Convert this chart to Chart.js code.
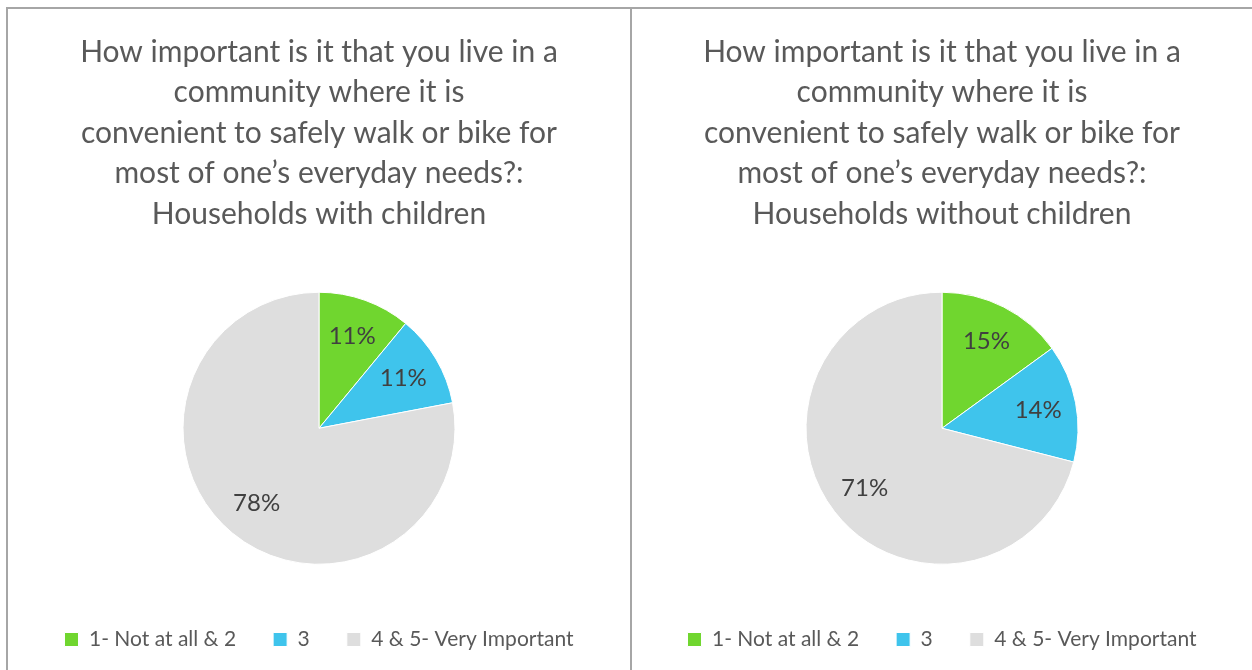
<!DOCTYPE html>
<html>
<head>
<meta charset="utf-8">
<title>Walk or bike importance</title>
<script src="https://cdn.jsdelivr.net/npm/chart.js@4.4.1/dist/chart.umd.min.js"></script>
<style>
  body { margin: 0; background: #fff; width: 1252px; height: 670px; overflow: hidden; position: relative; }
  .panel { position: absolute; top: 7px; height: 663px; box-sizing: border-box;
           border-top: 2px solid #a6a6a6; border-left: 2px solid #a6a6a6; }
  #p1 { left: 6px; width: 624px; }
  #p2 { left: 630px; width: 622px; }
  canvas { display: block; }
</style>
</head>
<body>
<div class="panel" id="p1"><canvas id="chartWith" width="622" height="661"></canvas></div>
<div class="panel" id="p2"><canvas id="chartWithout" width="620" height="661"></canvas></div>
<script>
const categories = ['1- Not at all & 2', '3', '4 & 5- Very Important'];
const withChildren = [11, 11, 78];     // percent
const withoutChildren = [15, 14, 71];  // percent
const sliceColors = ['#70d62f', '#3fc4ec', '#dedede'];
const question = [
    'How important is it that you live in a',
    'community where it is',
    'convenient to safely walk or bike for',
    'most of one\u2019s everyday needs?:'
];
const titleWith = question.concat(['Households with children']);
const titleWithout = question.concat(['Households without children']);

const FONT = 'Lato, "Open Sans", sans-serif';

// percent labels inside slices
const pctLabels = {
    id: 'pctLabels',
    afterDatasetsDraw(chart) {
        const ctx = chart.ctx;
        const meta = chart.getDatasetMeta(0);
        const values = chart.data.datasets[0].data;
        ctx.save();
        ctx.font = '24px ' + FONT;
        ctx.fillStyle = '#404040';
        ctx.textAlign = 'center';
        ctx.textBaseline = 'middle';
        meta.data.forEach((arc, i) => {
            const p = arc.getProps(['x', 'y', 'startAngle', 'endAngle', 'outerRadius'], true);
            const mid = (p.startAngle + p.endAngle) / 2;
            const r = p.outerRadius * 0.72;
            ctx.fillText(values[i] + '%', p.x + Math.cos(mid) * r, p.y + Math.sin(mid) * r);
        });
        ctx.restore();
    }
};

function makePie(id, values, title) {
    const ctx = document.getElementById(id).getContext('2d');
    return new Chart(ctx, {
        type: 'pie',
        data: {
            labels: categories,
            datasets: [{
                data: values,
                backgroundColor: sliceColors,
                borderColor: '#ffffff',
                borderWidth: 1,
                radius: 136
            }]
        },
        options: {
            responsive: false,
            animation: false,
            layout: { padding: { bottom: 10 } },
            plugins: {
                title: {
                    display: true,
                    text: title,
                    color: '#595959',
                    font: { family: FONT, size: 30, weight: 'normal', lineHeight: 1.35 },
                    padding: { top: 23, bottom: 30 }
                },
                legend: {
                    position: 'bottom',
                    labels: {
                        color: '#595959',
                        boxWidth: 14,
                        boxHeight: 14,
                        padding: 37,
                        font: { family: FONT, size: 21 }
                    }
                },
                tooltip: { enabled: false }
            }
        },
        plugins: [pctLabels]
    });
}

makePie('chartWith', withChildren, titleWith);
makePie('chartWithout', withoutChildren, titleWithout);
</script>
</body>
</html>
